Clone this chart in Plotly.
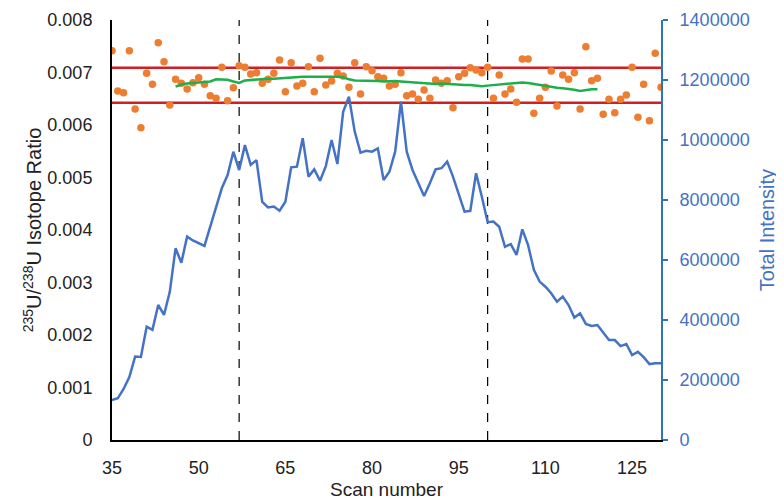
import plotly.graph_objects as go

# ---------------- data ----------------
scans = list(range(35, 131))

intensity = [
    133000, 139000, 170000, 210000, 278000, 277000, 378000, 367000, 450000, 417000,
    494000, 639000, 591000, 678000, 665000, 655000, 647000, 711000, 778000, 839000,
    883000, 961000, 900000, 983000, 917000, 933000, 794000, 775000, 778000, 764000,
    794000, 909000, 911000, 1006000, 878000, 902000, 864000, 913000, 1000000, 920000,
    1094000, 1144000, 1028000, 958000, 964000, 961000, 972000, 867000, 894000, 961000,
    1128000, 961000, 900000, 856000, 813000, 856000, 902000, 906000, 928000, 878000,
    817000, 761000, 764000, 889000, 811000, 726000, 728000, 711000, 644000, 653000,
    617000, 702000, 650000, 567000, 528000, 511000, 489000, 461000, 478000, 450000,
    408000, 422000, 387000, 380000, 383000, 358000, 333000, 333000, 313000, 320000,
    283000, 294000, 276000, 253000, 256000, 256000,
]

ratio = [
    0.007415, 0.006648, 0.006616, 0.007415, 0.006305, 0.005949, 0.006984, 0.006775, 0.007568, 0.007206,
    0.006380, 0.006870, 0.006794, 0.006686, 0.006806, 0.006901, 0.006775, 0.006558, 0.006508, 0.007099,
    0.006463, 0.006710, 0.007130, 0.007099, 0.006971, 0.006997, 0.006794, 0.006870, 0.006984, 0.007238,
    0.006635, 0.007187, 0.006743, 0.006794, 0.007110, 0.006635, 0.007270, 0.006762, 0.006838, 0.006984,
    0.006933, 0.006717, 0.007187, 0.006590, 0.007110, 0.007035, 0.006920, 0.006889, 0.006743, 0.006775,
    0.006997, 0.006558, 0.006590, 0.006489, 0.006667, 0.006508, 0.006857, 0.006794, 0.006844, 0.006330,
    0.006920, 0.006984, 0.007092, 0.007048, 0.006997, 0.007099, 0.006508, 0.006952, 0.006590, 0.006686,
    0.006432, 0.007257, 0.007257, 0.006222, 0.006508, 0.006717, 0.007029, 0.006362, 0.006952, 0.006870,
    0.006997, 0.006305, 0.007492, 0.006844, 0.006889, 0.006204, 0.006489, 0.006235, 0.006489, 0.006571,
    0.007099, 0.006146, 0.006775, 0.006082, 0.007365, 0.006717,
]

avg_scans = list(range(46, 120))
moving_avg = [
    0.00673, 0.00677, 0.00679, 0.00680, 0.00680, 0.00681, 0.00683, 0.00687, 0.00687, 0.00686,
    0.00683, 0.00680, 0.00685, 0.00686, 0.00687, 0.00687, 0.00688, 0.00688, 0.00689, 0.00690,
    0.00690, 0.00691, 0.00692, 0.00692, 0.00692, 0.00693, 0.00692, 0.00692, 0.00692, 0.00691,
    0.00687, 0.00685, 0.00685, 0.00684, 0.00684, 0.00684, 0.00683, 0.00684, 0.00684, 0.00683,
    0.00682, 0.00681, 0.00680, 0.00680, 0.00679, 0.00678, 0.00679, 0.00678, 0.00677, 0.00677,
    0.00676, 0.00676, 0.00675, 0.00674, 0.00675, 0.00676, 0.00678, 0.00679, 0.00680, 0.00681,
    0.00681, 0.00680, 0.00678, 0.00676, 0.00674, 0.00672, 0.00671, 0.00670, 0.00669, 0.00667,
    0.00665, 0.00667, 0.00668, 0.00668,
]

limits = [0.00709, 0.006425]     # red control lines
dashed_scans = [57, 100]         # integration window
x_ticks = [35, 50, 65, 80, 95, 110, 125]

# ---------------- figure ----------------
FONT = "Liberation Sans, Arial, sans-serif"
BLUE_AX = "#2E75B6"
BLUE_TXT = "#4472C4"

fig = go.Figure()

for lim in limits:
    fig.add_hline(y=lim, line=dict(color="#D11F26", width=2.5), layer="below")

for xs in dashed_scans:
    fig.add_vline(x=xs, line=dict(color="black", width=1.2, dash="dash"), layer="below")

fig.add_trace(go.Scatter(
    x=scans, y=ratio, mode="markers",
    marker=dict(color="#ED7D31", size=7.5), yaxis="y", showlegend=False))

fig.add_trace(go.Scatter(
    x=avg_scans, y=moving_avg, mode="lines",
    line=dict(color="#1DAF4B", width=2.5), yaxis="y", showlegend=False))

fig.add_trace(go.Scatter(
    x=scans, y=intensity, mode="lines",
    line=dict(color="#4472C4", width=2.5), yaxis="y2", showlegend=False))

# the page body adds an 8px margin, so the figure is sized/margined to compensate
fig.update_layout(
    width=776, height=494,
    margin=dict(l=104, r=123, t=12, b=62),
    paper_bgcolor="white", plot_bgcolor="white",
    font=dict(family=FONT, size=18, color="#222222"),
    showlegend=False,
    xaxis=dict(
        range=[35, 130], tickvals=x_ticks, showgrid=False, zeroline=False,
        showline=True, linecolor="black", linewidth=2, ticks="",
        ticklabelstandoff=10, automargin=False,
        title=dict(text="Scan number", font=dict(size=19), standoff=6),
        tickfont=dict(size=18, color="#222222"),
    ),
    yaxis=dict(
        range=[0, 0.008], dtick=0.001, showgrid=False, zeroline=False,
        showline=True, linecolor="black", linewidth=2, ticks="",
        ticklabelstandoff=14, automargin=False,
        title=dict(text="<sup>235</sup>U/<sup>238</sup>U Isotope Ratio",
                   font=dict(size=20), standoff=0),
        tickfont=dict(size=18, color="#222222"),
    ),
    yaxis2=dict(
        overlaying="y", side="right", range=[0, 1400000], dtick=200000,
        showgrid=False, zeroline=False, tickformat="d",
        showline=True, linecolor=BLUE_AX, linewidth=2,
        ticks="outside", ticklen=5, tickwidth=2, tickcolor=BLUE_AX,
        ticklabelstandoff=8, automargin=False,
        title=dict(text="Total Intensity", font=dict(size=20, color=BLUE_TXT), standoff=11),
        tickfont=dict(size=18, color=BLUE_TXT),
    ),
)

fig.write_html("out.html")
